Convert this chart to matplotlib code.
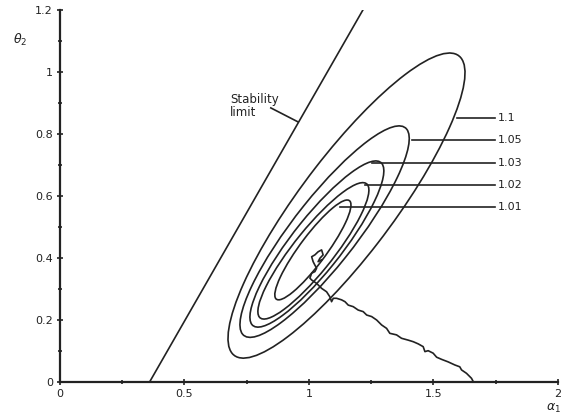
import matplotlib
matplotlib.use("Agg")
import matplotlib.pyplot as plt
from matplotlib.patches import Ellipse
import numpy as np

# loss contour levels and their (approximate) ellipse shapes
levels = [1.01, 1.02, 1.03, 1.05, 1.1]
level_labels = ["1.01", "1.02", "1.03", "1.05", "1.1"]
centre_x = [1.016, 1.018, 1.032, 1.063, 1.151]
centre_y = [0.426, 0.423, 0.445, 0.485, 0.569]
half_x = [0.153, 0.223, 0.269, 0.340, 0.476]
half_y = [0.161, 0.220, 0.268, 0.341, 0.492]
tilt = [0.90, 0.89, 0.88, 0.88, 0.87]

# where the label lines leave each contour
leader_x0 = [1.124, 1.225, 1.253, 1.414, 1.594]
leader_y = [0.565, 0.635, 0.706, 0.781, 0.852]

# stability limit
stab_x = [0.36, 1.217]
stab_y = [0.0, 1.2]

# estimate trajectory (from start on the axis to the end near the optimum)
path_x = [1.661, 1.653, 1.633, 1.613, 1.606, 1.586, 1.559, 1.533, 1.513, 1.499,
          1.479, 1.466, 1.459, 1.439, 1.419, 1.399, 1.372, 1.352, 1.325, 1.312,
          1.292, 1.272, 1.252, 1.232, 1.218, 1.198, 1.178, 1.158, 1.145, 1.131,
          1.111, 1.098, 1.091, 1.084, 1.071, 1.051, 1.031, 1.011, 1.004, 1.011,
          1.024, 1.031, 1.024, 1.017, 1.011, 1.024, 1.037, 1.051, 1.057, 1.044,
          1.037, 1.051]
path_y = [0.000, 0.012, 0.028, 0.039, 0.049, 0.055, 0.065, 0.073, 0.080, 0.093,
          0.101, 0.098, 0.114, 0.123, 0.130, 0.135, 0.141, 0.152, 0.157, 0.173,
          0.184, 0.200, 0.211, 0.216, 0.227, 0.232, 0.243, 0.248, 0.259, 0.265,
          0.270, 0.270, 0.259, 0.275, 0.291, 0.302, 0.318, 0.329, 0.335, 0.351,
          0.356, 0.367, 0.377, 0.388, 0.404, 0.410, 0.420, 0.426, 0.410, 0.399,
          0.388, 0.394]

xticks = [0, 0.5, 1, 1.5, 2]
xtick_labels = ["0", "0.5", "1", "1.5", "2"]
yticks = [0, 0.2, 0.4, 0.6, 0.8, 1.0, 1.2]
ytick_labels = ["0", "0.2", "0.4", "0.6", "0.8", "1", "1.2"]

fig = plt.figure(figsize=(5.71, 4.19), dpi=100)
ax = fig.add_axes([0.105, 0.0883, 0.872, 0.888])
lw = 1.2
col = "#222222"

for i in range(len(levels)):
    cov = np.array([[half_x[i] ** 2, tilt[i] * half_x[i] * half_y[i]],
                    [tilt[i] * half_x[i] * half_y[i], half_y[i] ** 2]])
    vals, vecs = np.linalg.eigh(cov)
    ang = np.degrees(np.arctan2(vecs[1, 1], vecs[0, 1]))
    ax.add_patch(Ellipse((centre_x[i], centre_y[i]), 2 * np.sqrt(vals[1]),
                         2 * np.sqrt(vals[0]), angle=ang, fill=False,
                         edgecolor=col, lw=lw))
    ax.plot([leader_x0[i], 1.747], [leader_y[i], leader_y[i]], color=col, lw=lw)
    ax.text(1.757, leader_y[i], level_labels[i], fontsize=8, va="center",
            ha="left", color=col)

ax.plot(stab_x, stab_y, color=col, lw=lw)
ax.plot([0.847, 0.956], [0.884, 0.839], color=col, lw=lw)
ax.text(0.683, 0.89, "Stability\nlimit", fontsize=8.5, va="center", ha="left",
        color=col, linespacing=1.0)

ax.plot(path_x, path_y, color=col, lw=lw)

ax.set_xlim(0, 2)
ax.set_ylim(0, 1.2)
ax.spines["top"].set_visible(False)
ax.spines["right"].set_visible(False)
ax.spines["left"].set_linewidth(1.6)
ax.spines["bottom"].set_linewidth(1.6)
ax.spines["left"].set_color(col)
ax.spines["bottom"].set_color(col)
ax.set_xticks(xticks)
ax.set_xticklabels(xtick_labels)
ax.set_yticks(yticks)
ax.set_yticklabels(ytick_labels)
ax.set_xticks([0.25, 0.75, 1.25, 1.75], minor=True)
ax.set_yticks([0.1, 0.3, 0.5, 0.7, 0.9, 1.1], minor=True)
ax.tick_params(which="major", direction="inout", length=4, width=1.2,
               labelsize=8, pad=3, colors=col)
ax.tick_params(which="minor", direction="inout", length=2.5, width=1.2,
               colors=col)

fig.text(20 / 571, 1 - 40 / 419, r"$\theta_2$", fontsize=9, ha="center",
         va="center", color=col)
fig.text(553 / 571, 1 - 408 / 419, r"$\alpha_1$", fontsize=9, ha="center",
         va="center", color=col)

fig.savefig("out.png", dpi=100)
